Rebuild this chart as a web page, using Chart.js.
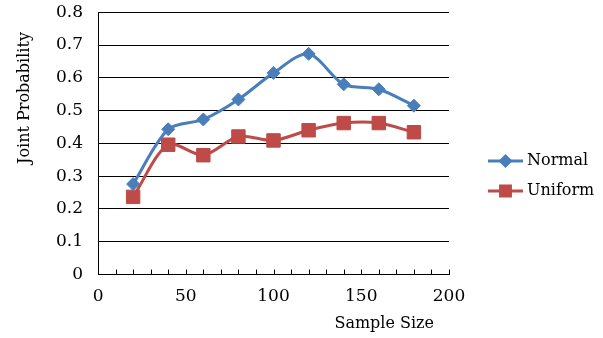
<!DOCTYPE html>
<html>
<head>
<meta charset="utf-8">
<script src="https://cdn.jsdelivr.net/npm/chart.js@4"></script>
<style>
  html, body { margin: 0; padding: 0; background: #fff; }
  #wrap { width: 603px; height: 338px; }
</style>
</head>
<body>
<div id="wrap"><canvas id="probChart" width="603" height="338"></canvas></div>
<script>
// data
const sampleSizes = [20, 40, 60, 80, 100, 120, 140, 160, 180];
const normalValues = [0.276, 0.443, 0.473, 0.534, 0.615, 0.673, 0.580, 0.565, 0.515];
const uniformValues = [0.237, 0.396, 0.364, 0.421, 0.409, 0.440, 0.462, 0.462, 0.434];
const seriesNames = ['Normal', 'Uniform'];
const xTitle = 'Sample Size';
const yTitle = 'Joint Probability';

const BLUE = '#4A7EBB';
const RED = '#BE4B48';
const FONT = '"DejaVu Serif", serif';

const toPoints = (vals) => vals.map((v, i) => ({ x: sampleSizes[i], y: v }));

// small inside tick marks on the x axis, one per x tick
const minorTicks = {
    id: 'minorTicks',
    beforeDatasetsDraw(chart) {
        const scale = chart.scales.x;
        const ctx = chart.ctx;
        const bottom = chart.chartArea.bottom;
        ctx.save();
        ctx.strokeStyle = '#000';
        ctx.lineWidth = 1;
        scale.ticks.forEach(t => {
            const px = Math.round(scale.getPixelForValue(t.value)) + 0.5;
            ctx.beginPath();
            ctx.moveTo(px, bottom);
            ctx.lineTo(px, bottom - 5);
            ctx.stroke();
        });
        ctx.restore();
    }
};

// axis titles and legend, placed like the original
const extras = {
    id: 'extras',
    afterDraw(chart) {
        const ctx = chart.ctx;
        ctx.save();
        ctx.fillStyle = '#000';
        ctx.font = '16px ' + FONT;

        // y title
        ctx.save();
        ctx.translate(25, 98);
        ctx.rotate(-Math.PI / 2);
        ctx.textAlign = 'center';
        ctx.textBaseline = 'middle';
        ctx.fillText(yTitle, 0, 0);
        ctx.restore();

        // x title
        ctx.textAlign = 'right';
        ctx.textBaseline = 'middle';
        ctx.fillText(xTitle, 434, 324);

        // legend
        const items = chart.data.datasets;
        items.forEach((ds, i) => {
            const y = 161 + i * 30;
            ctx.strokeStyle = ds.borderColor;
            ctx.lineWidth = 3;
            ctx.beginPath();
            ctx.moveTo(488, y);
            ctx.lineTo(523, y);
            ctx.stroke();
            ctx.fillStyle = ds.pointBackgroundColor;
            ctx.strokeStyle = ds.pointBackgroundColor;
            Chart.helpers.drawPoint(ctx, {
                pointStyle: ds.pointStyle,
                radius: ds.pointStyle === 'rect' ? 7 : 5,
                rotation: 0,
                borderWidth: 1
            }, 505.5, y);
            ctx.fillStyle = '#000';
            ctx.textAlign = 'left';
            ctx.fillText(ds.label, 527, y);
        });
        ctx.restore();
    }
};

new Chart(document.getElementById('probChart'), {
    type: 'line',
    data: {
        datasets: [
            {
                label: seriesNames[0],
                data: toPoints(normalValues),
                borderColor: BLUE,
                backgroundColor: BLUE,
                pointBackgroundColor: BLUE,
                pointBorderColor: BLUE,
                borderWidth: 3,
                pointStyle: 'rectRot',
                pointRadius: 6.5,
                pointBorderWidth: 1,
                tension: 0.3
            },
            {
                label: seriesNames[1],
                data: toPoints(uniformValues),
                borderColor: RED,
                backgroundColor: RED,
                pointBackgroundColor: RED,
                pointBorderColor: RED,
                borderWidth: 3,
                pointStyle: 'rect',
                pointRadius: 9.5,
                pointBorderWidth: 1,
                tension: 0.3
            }
        ]
    },
    options: {
        responsive: false,
        animation: false,
        events: [],
        layout: { autoPadding: false, padding: { left: 54, right: 154, top: 0, bottom: 27 } },
        plugins: {
            legend: { display: false },
            tooltip: { enabled: false }
        },
        scales: {
            x: {
                type: 'linear',
                min: 0,
                max: 200,
                grid: { display: false },
                border: { display: true, color: '#000', width: 1 },
                ticks: {
                    stepSize: 10,
                    autoSkip: false,
                    maxRotation: 0,
                    padding: 4,
                    color: '#000',
                    font: { family: FONT, size: 17 },
                    callback: (v) => (v % 50 === 0 ? String(v) : '')
                }
            },
            y: {
                min: 0,
                max: 0.8,
                // hidden tick marks keep the label gap without padding the top
                grid: { color: '#000', lineWidth: 1, drawTicks: true, tickLength: 13, tickColor: 'rgba(0,0,0,0)' },
                border: { display: true, color: '#000', width: 1 },
                ticks: {
                    stepSize: 0.1,
                    padding: 2,
                    color: '#000',
                    font: { family: FONT, size: 17 }
                }
            }
        }
    },
    plugins: [minorTicks, extras]
});
</script>
</body>
</html>
